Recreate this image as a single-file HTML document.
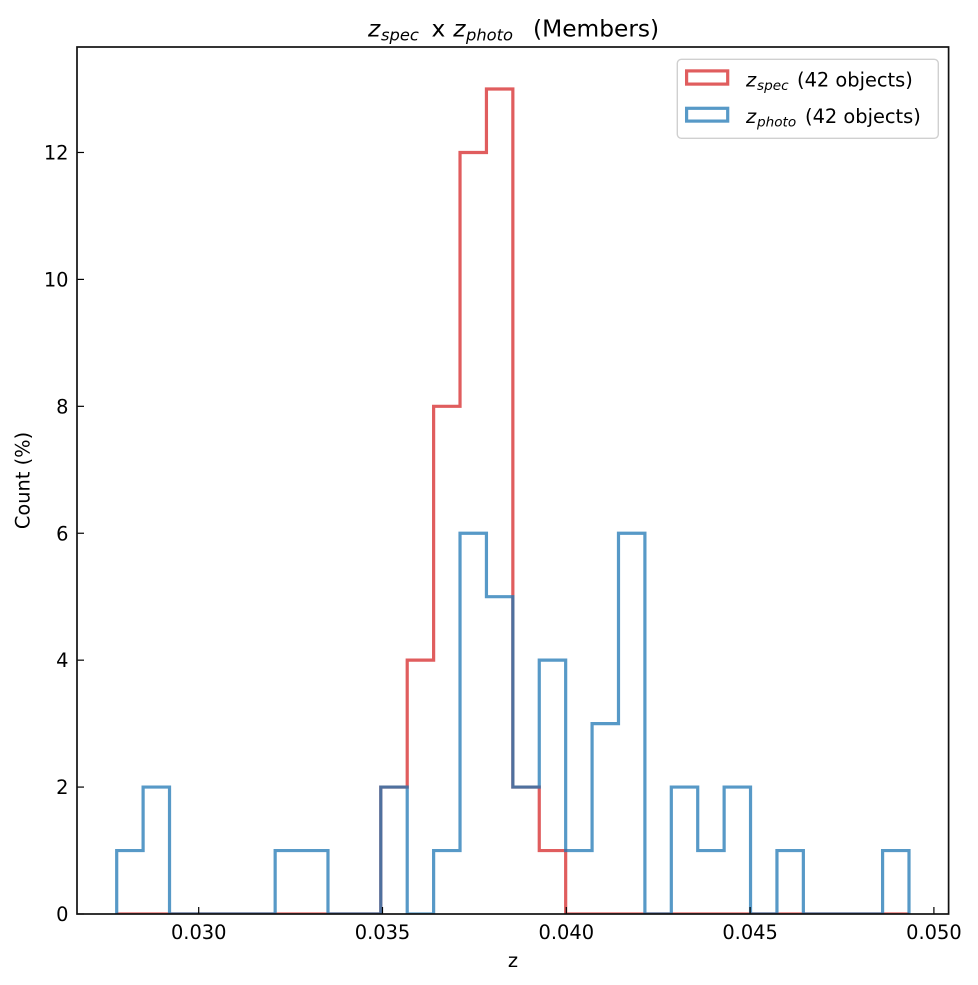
<!DOCTYPE html>
<html>
<head>
<meta charset="utf-8">
<style>
html,body{margin:0;padding:0;background:#fff;}
svg{display:block;}
text{font-family:"DejaVu Sans","Liberation Sans",sans-serif;fill:#000;}
</style>
</head>
<body>
<svg width="978" height="985" viewBox="0 0 978 985" xmlns="http://www.w3.org/2000/svg">
<rect x="0" y="0" width="978" height="985" fill="#fff"/>
<defs>
<clipPath id="ax"><rect x="77" y="47" width="871.6" height="867"/></clipPath>
</defs>

<!-- histograms -->
<g clip-path="url(#ax)" fill="none" stroke-width="3.2" stroke-linejoin="miter">
<path stroke="#d62728" stroke-opacity="0.75" d="M116.7,914 H380.8 V787.08 H407.21 V660.16 H433.62 V406.32 H460.03 V152.48 H486.44 V89.02 H512.85 V787.08 H539.26 V850.54 H565.67 V914 H909"/>
<path stroke="#1f77b4" stroke-opacity="0.75" d="M116.7,914 V850.54 H143.11 V787.08 H169.52 V914 H275.16 V850.54 H327.98 V914 H380.8 V787.08 H407.21 V914 H433.62 V850.54 H460.03 V533.24 H486.44 V596.7 H512.85 V787.08 H539.26 V660.16 H565.67 V850.54 H592.08 V723.62 H618.49 V533.24 H644.9 V914 H671.31 V787.08 H697.72 V850.54 H724.13 V787.08 H750.54 V914 H776.95 V850.54 H803.36 V914 H882.59 V850.54 H909 V914"/>
</g>

<!-- ticks (inward) -->
<g stroke="#000" stroke-width="1.2">
<line x1="198.7" y1="914" x2="198.7" y2="907"/>
<line x1="382.5" y1="914" x2="382.5" y2="907"/>
<line x1="566.3" y1="914" x2="566.3" y2="907"/>
<line x1="750.1" y1="914" x2="750.1" y2="907"/>
<line x1="933.9" y1="914" x2="933.9" y2="907"/>
<line x1="77" y1="914" x2="84" y2="914"/>
<line x1="77" y1="787.08" x2="84" y2="787.08"/>
<line x1="77" y1="660.16" x2="84" y2="660.16"/>
<line x1="77" y1="533.24" x2="84" y2="533.24"/>
<line x1="77" y1="406.32" x2="84" y2="406.32"/>
<line x1="77" y1="279.4" x2="84" y2="279.4"/>
<line x1="77" y1="152.48" x2="84" y2="152.48"/>
</g>

<!-- spines -->
<rect x="77" y="47" width="871.6" height="867" fill="none" stroke="#111" stroke-width="1.7"/>

<!-- x tick labels -->
<g font-size="19.4" text-anchor="middle">
<text x="198.7" y="939">0.030</text>
<text x="382.5" y="939">0.035</text>
<text x="566.3" y="939">0.040</text>
<text x="750.1" y="939">0.045</text>
<text x="933.9" y="939">0.050</text>
</g>

<!-- y tick labels -->
<g font-size="19.4" text-anchor="end">
<text x="68.5" y="921">0</text>
<text x="68.5" y="794.1">2</text>
<text x="68.5" y="667.2">4</text>
<text x="68.5" y="540.3">6</text>
<text x="68.5" y="413.4">8</text>
<text x="68.5" y="286.4">10</text>
<text x="68.5" y="159.5">12</text>
</g>

<!-- axis labels -->
<text x="513" y="967" font-size="19.4" text-anchor="middle">z</text>
<text transform="translate(29.5,480.5) rotate(-90)" font-size="19.4" text-anchor="middle">Count (%)</text>

<!-- title -->
<g font-size="23.3">
<text x="368" y="36.5" font-style="italic">z</text>
<text x="381" y="40.5" font-style="italic" font-size="16.3">spec</text>
<text x="431.5" y="36.5">x</text>
<text x="453.3" y="36.5" font-style="italic">z</text>
<text x="466" y="40.5" font-style="italic" font-size="16.3">photo</text>
<text x="533" y="36.5">(Members)</text>
</g>

<!-- legend -->
<rect x="677.3" y="59.3" width="261" height="79" rx="4" ry="4" fill="#fff" fill-opacity="0.8" stroke="#d0d0d0" stroke-width="1.4"/>
<rect x="686.6" y="70.9" width="41.1" height="13.2" fill="none" stroke="#d62728" stroke-opacity="0.75" stroke-width="3.2"/>
<rect x="686.6" y="108.3" width="41.1" height="12.8" fill="none" stroke="#1f77b4" stroke-opacity="0.75" stroke-width="3.2"/>
<g font-size="19.4">
<text x="746" y="86.5" font-style="italic">z</text>
<text x="757" y="90" font-style="italic" font-size="13.6">spec</text>
<text x="797" y="86.5">(42 objects)</text>
<text x="746" y="123.2" font-style="italic">z</text>
<text x="757" y="126.7" font-style="italic" font-size="13.6">photo</text>
<text x="805" y="123.2">(42 objects)</text>
</g>
</svg>
</body>
</html>
